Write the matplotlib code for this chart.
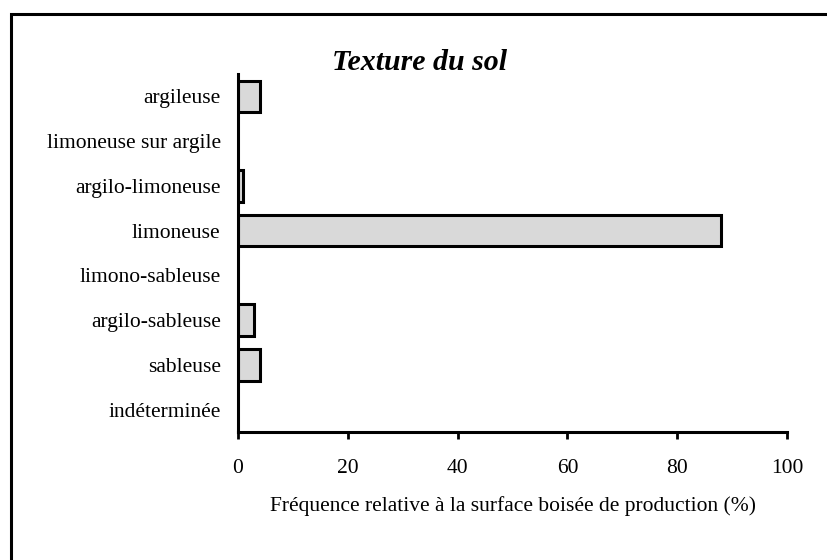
import matplotlib
matplotlib.use("Agg")
import matplotlib.pyplot as plt
from matplotlib.patches import Rectangle

categories = ["argileuse", "limoneuse sur argile", "argilo-limoneuse", "limoneuse",
              "limono-sableuse", "argilo-sableuse", "sableuse", "indéterminée"]
values = [4, 0, 1, 88, 0, 3, 4, 0]
xticks = [0, 20, 40, 60, 80, 100]

plt.rcParams['font.family'] = ['Liberation Serif', 'DejaVu Serif']

fig = plt.figure(figsize=(8.27, 5.6), dpi=100)
ax = fig.add_axes([238/827, 1-432/560, (787-238)/827, (432-74)/560])

ypos = list(range(len(categories)))
lws = [2.2 if v > 0 else 0 for v in values]
ax.barh(ypos, values, height=0.7, color='#d9d9d9', edgecolor='black',
        linewidth=lws, zorder=2)

ax.set_ylim(len(categories)-0.5, -0.5)
ax.set_xlim(0, 100)
ax.set_yticks(ypos)
ax.set_yticklabels(categories, fontsize=15.5)
ax.tick_params(axis='y', length=0, pad=12.5)
ax.set_xticks(xticks)
ax.set_xticklabels([str(t) for t in xticks], fontsize=15.5)
ax.tick_params(axis='x', length=5, width=2, direction='out', pad=14.5)
ax.spines['top'].set_visible(False)
ax.spines['right'].set_visible(False)
for s in ['left', 'bottom']:
    ax.spines[s].set_linewidth(2.2)
ax.set_xlabel("Fréquence relative à la surface boisée de production (%)", fontsize=15.5, labelpad=13)

fig.text(420/827, 1-63/560, "Texture du sol", fontsize=21.5, fontweight='bold',
         fontstyle='italic', ha='center', va='center')

fig.patches.append(Rectangle((11/827, -0.05), 1.1, 1-14/560+0.05, transform=fig.transFigure,
                             fill=False, edgecolor='black', linewidth=2.2, clip_on=False))

fig.savefig("out.png", dpi=100)
